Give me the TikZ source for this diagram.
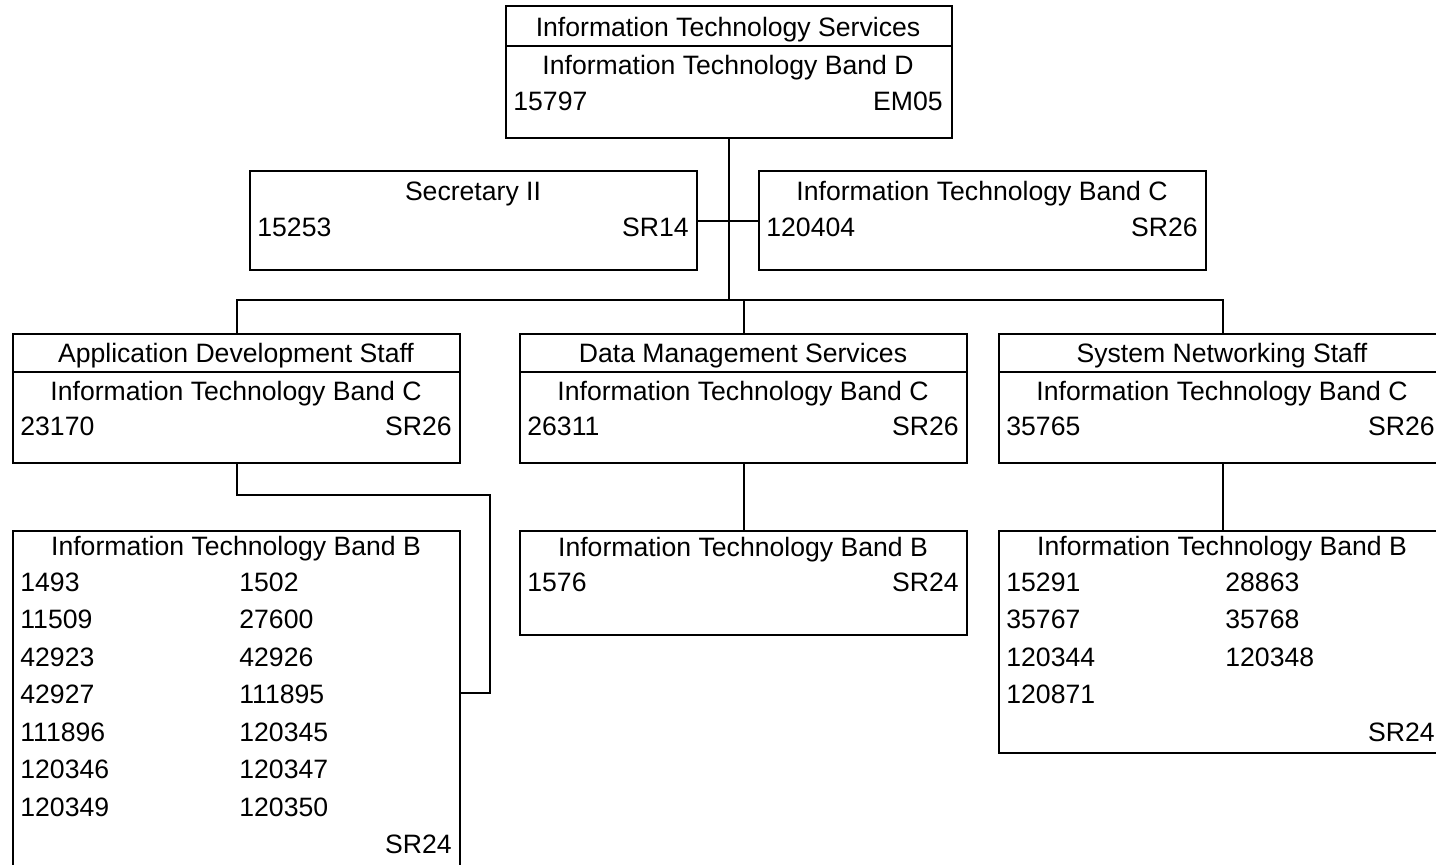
\documentclass[tikz,border=0pt]{standalone}
\usepackage{fontspec}
\setmainfont{Liberation Sans}
\begin{document}
\begin{tikzpicture}[x=0.5pt,y=-0.5pt,
    post/.style={draw,line width=1pt,anchor=north west,inner sep=0pt,minimum width=223.5pt},
    txt/.style={inner sep=0pt,font=\fontsize{13.3pt}{15pt}\selectfont},
    ttl/.style={txt,anchor=base},
    lft/.style={txt,anchor=base west},
    rgt/.style={txt,anchor=base east},
    link/.style={line width=1pt}]
    \useasboundingbox (0,0) rectangle (1436,864);
    \fill[white] (0,0) rectangle (1436,864);
    \clip (0,0) rectangle (1436,864);

    % boxes
    \node[post,minimum width=223pt,minimum height=66pt] (itsvc) at (505,5) {};
    \node[post,minimum height=49.5pt] (sec) at (249,170) {};
    \node[post,minimum height=49.5pt] (bandc) at (758,170) {};
    \node[post,minimum height=64.5pt] (appdev) at (12,333) {};
    \node[post,minimum height=64.5pt] (datamgmt) at (519,333) {};
    \node[post,minimum height=64.5pt] (sysnet) at (998,333) {};
    \node[post,minimum height=180pt] (appB) at (12,530) {};
    \node[post,minimum height=52pt] (dataB) at (519,530) {};
    \node[post,minimum height=111pt] (sysB) at (998,530) {};

    % title rules
    \draw[link] (itsvc.west |- 0,46) -- (itsvc.east |- 0,46);
    \draw[link] (appdev.west |- 0,372) -- (appdev.east |- 0,372);
    \draw[link] (datamgmt.west |- 0,372) -- (datamgmt.east |- 0,372);
    \draw[link] (sysnet.west |- 0,372) -- (sysnet.east |- 0,372);

    % texts
    \node[ttl] (itsvc-t) at (728,36) {Information Technology Services};
    \node[ttl] (itsvc-b) at (728,74) {Information Technology Band D};
    \node[lft] (itsvc-n) at (513,110) {15797};
    \node[rgt] (itsvc-g) at (943,110) {EM05};

    \node[ttl] (sec-t) at (473,200) {Secretary II};
    \node[lft] (sec-n) at (257,236) {15253};
    \node[rgt] (sec-g) at (689,236) {SR14};

    \node[ttl] (bandc-t) at (982,200) {Information Technology Band C};
    \node[lft] (bandc-n) at (766,236) {120404};
    \node[rgt] (bandc-g) at (1198,236) {SR26};

    \node[ttl] (appdev-t) at (236,362) {Application Development Staff};
    \node[ttl] (appdev-b) at (236,400) {Information Technology Band C};
    \node[lft] (appdev-n) at (20,435) {23170};
    \node[rgt] (appdev-g) at (452,435) {SR26};

    \node[ttl] (datamgmt-t) at (743,362) {Data Management Services};
    \node[ttl] (datamgmt-b) at (743,400) {Information Technology Band C};
    \node[lft] (datamgmt-n) at (527,435) {26311};
    \node[rgt] (datamgmt-g) at (959,435) {SR26};

    \node[ttl] (sysnet-t) at (1222,362) {System Networking Staff};
    \node[ttl] (sysnet-b) at (1222,400) {Information Technology Band C};
    \node[lft] (sysnet-n) at (1006,435) {35765};
    \node[rgt] (sysnet-g) at (1435,435) {SR26};

    \node[ttl] (appB-t) at (236,555) {Information Technology Band B};
    \foreach \a/\b [count=\r] in {1493/1502,11509/27600,42923/42926,42927/111895,
        111896/120345,120346/120347,120349/120350}{
        \node[lft] (appB-l\r) at (20,553.5+37.5*\r) {\a};
        \node[lft] (appB-r\r) at (239,553.5+37.5*\r) {\b};
    }
    \node[rgt] (appB-g) at (452,853.5) {SR24};

    \node[ttl] (dataB-t) at (743,556) {Information Technology Band B};
    \node[lft] (dataB-n) at (527,591) {1576};
    \node[rgt] (dataB-g) at (959,591) {SR24};

    \node[ttl] (sysB-t) at (1222,555) {Information Technology Band B};
    \foreach \a/\b [count=\r] in {15291/28863,35767/35768,120344/120348}{
        \node[lft] (sysB-l\r) at (1006,553.5+37.5*\r) {\a};
        \node[lft] (sysB-r\r) at (1225,553.5+37.5*\r) {\b};
    }
    \node[lft] (sysB-l4) at (1006,703.5) {120871};
    \node[rgt] (sysB-g) at (1435,741) {SR24};

    % connectors
    \coordinate (bus) at (itsvc.south |- 0,300);
    \coordinate (elbow) at (490,693);
    \draw[link] (itsvc.south) -- (bus);
    \draw[link] (sec.east) -- (bandc.west);
    \draw[link] (appdev.north) |- (bus) -| (sysnet.north);
    \draw[link] (datamgmt.north) -- (datamgmt.north |- bus);
    \draw[link] (appdev.south) -- ++(0,31) -| (elbow) -- (elbow -| appB.east);
    \draw[link] (datamgmt.south) -- (dataB.north);
    \draw[link] (sysnet.south) -- (sysB.north);
\end{tikzpicture}
\end{document}
